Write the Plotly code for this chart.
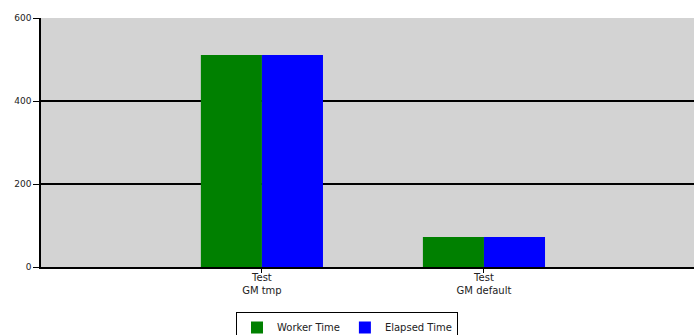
import plotly.graph_objects as go

categories = ["Test<br>GM tmp", "Test<br>GM default"]
worker_time = [511, 72]
elapsed_time = [511, 72]
y_ticks = [0, 200, 400, 600]

fig = go.Figure()
fig.add_trace(go.Bar(name="Worker Time", x=categories, y=worker_time,
                     marker=dict(color="#008000", line=dict(width=0))))
fig.add_trace(go.Bar(name="Elapsed Time", x=categories, y=elapsed_time,
                     marker=dict(color="#0000ff", line=dict(width=0))))

fig.update_layout(
    width=694, height=335,
    margin=dict(l=41, r=0, t=18, b=68, autoexpand=False),
    paper_bgcolor="white", plot_bgcolor="#d3d3d3",
    barmode="group", bargap=0.45, bargroupgap=0,
    font=dict(family="DejaVu Sans", size=9, color="#222222"),
    showlegend=True,
    legend=dict(orientation="h", x=0.50, xanchor="center", xref="container",
                y=1 - 312 / 335, yanchor="top", yref="container",
                bordercolor="black", borderwidth=1, bgcolor="white",
                font=dict(size=10), tracegroupgap=0, itemwidth=30),
    xaxis=dict(range=[-0.995, 1.946], showline=True, linecolor="black", linewidth=1.5,
               ticks="outside", ticklen=4, tickcolor="black", showgrid=False,
               automargin=False, tickfont=dict(size=10), ticklabelstandoff=-4),
    yaxis=dict(range=[0, 600], tickvals=y_ticks, showline=True, linecolor="black",
               linewidth=1.5, ticks="outside", ticklen=6, tickcolor="black",
               showgrid=True, gridcolor="black", gridwidth=1.5, zeroline=False,
               automargin=False),
)

fig.write_html("out.html")
